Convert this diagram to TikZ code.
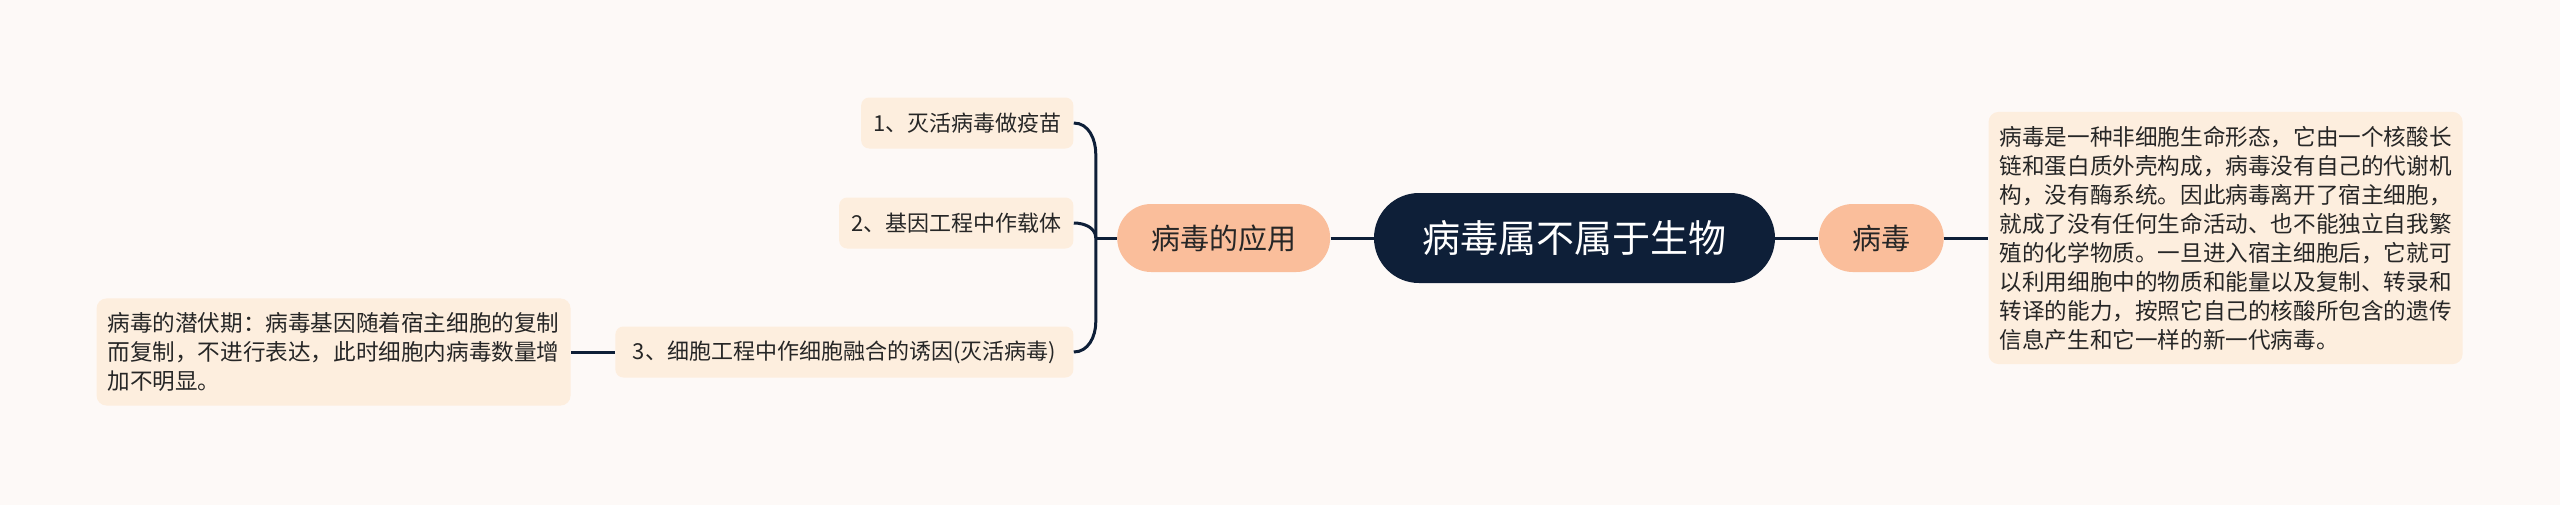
\documentclass[tikz,border=0pt]{standalone}
\usepackage{fontspec}
\newfontfamily\cjk{Noto Sans CJK SC}
\usepackage{tikz}
\usetikzlibrary{calc,positioning}
\definecolor{mapbg}{RGB}{253,249,247}
\definecolor{mapnavy}{RGB}{14,31,56}
\definecolor{mappeach}{RGB}{250,190,155}
\definecolor{mapcream}{RGB}{253,238,222}
\definecolor{mapink}{RGB}{38,38,38}

\begin{document}
\begin{tikzpicture}[
    rootnode/.style={fill=mapnavy,text=white,rounded corners=22.5pt,minimum width=200.5pt,
      minimum height=45pt,font=\cjk\fontsize{19pt}{23pt}\selectfont},
    topicnode/.style={fill=mappeach,text=mapink,rounded corners=17pt,minimum height=34pt,
      font=\cjk\fontsize{14.5pt}{18pt}\selectfont},
    leafnode/.style={fill=mapcream,text=mapink,rounded corners=4pt,minimum height=25.5pt,
      inner xsep=6pt,font=\cjk\fontsize{11pt}{14pt}\selectfont},
    notenode/.style={fill=mapcream,text=mapink,rounded corners=5pt,align=left,inner xsep=5.5pt,
      inner ysep=7pt,font=\cjk\fontsize{11.3pt}{14.5pt}\selectfont},
    link/.style={draw=mapnavy,line width=1.5pt}]
    \useasboundingbox (-787.25pt,-133.5pt) rectangle (492.75pt,119pt);
    \fill[mapbg] (-787.25pt,-133.5pt) rectangle (492.75pt,119pt);

    \node[rootnode] (root) at (0,0) {病毒属不属于生物};
    \node[topicnode,minimum width=106.5pt,left=21.5pt of root] (app) {病毒的应用};
    \node[topicnode,minimum width=62.5pt,right=21.5pt of root] (virus) {病毒};
    \node[notenode,right=22pt of virus] (desc)
      {病毒是一种非细胞生命形态，它由一个核酸长\\
       链和蛋白质外壳构成，病毒没有自己的代谢机\\
       构，没有酶系统。因此病毒离开了宿主细胞，\\
       就成了没有任何生命活动、也不能独立自我繁\\
       殖的化学物质。一旦进入宿主细胞后，它就可\\
       以利用细胞中的物质和能量以及复制、转录和\\
       转译的能力，按照它自己的核酸所包含的遗传\\
       信息产生和它一样的新一代病毒。};
    \coordinate[left=10.5pt of app] (hub);
    \node[leafnode,left=11pt of hub,yshift=57.5pt] (vaccine) {1、灭活病毒做疫苗};
    \node[leafnode,left=11pt of hub,yshift=7.5pt] (vector) {2、基因工程中作载体};
    \node[leafnode,minimum width=229pt,left=11pt of hub,yshift=-57pt] (fusion)
      {3、细胞工程中作细胞融合的诱因(灭活病毒)};
    \node[notenode,left=22pt of fusion] (latent)
      {病毒的潜伏期：病毒基因随着宿主细胞的复制\\
       而复制，不进行表达，此时细胞内病毒数量增\\
       加不明显。};

    \draw[link] (vaccine.east) to[out=0,in=90] ($(hub)+(0,42pt)$) -- (hub);
    \draw[link] (vector.east) to[out=0,in=90] (hub);
    \draw[link] (fusion.east) to[out=0,in=-90] ($(hub)+(0,-42pt)$) -- (hub);
    \draw[link] (hub) -- (app);
    \draw[link] (app) -- (root);
    \draw[link] (root) -- (virus);
    \draw[link] (virus) -- (desc);
    \draw[link] (fusion) -- (latent);
  \end{tikzpicture}
\end{document}
